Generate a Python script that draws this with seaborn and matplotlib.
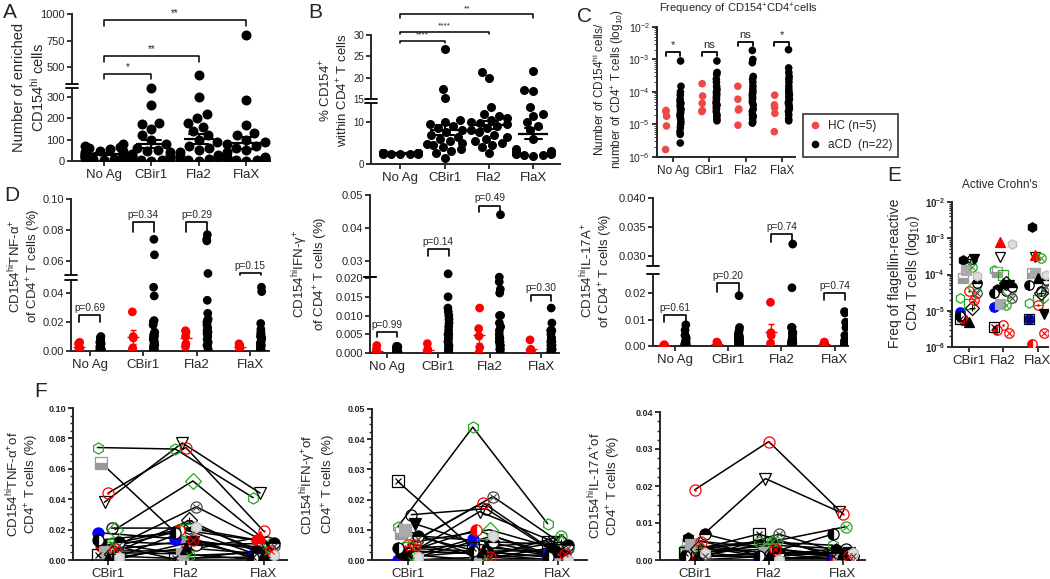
import numpy as np
import pandas as pd
import matplotlib
matplotlib.use('Agg')
import matplotlib.pyplot as plt
import seaborn as sns
from matplotlib.ticker import AutoMinorLocator

sns.set_style('ticks')
plt.rcParams['font.family'] = ['Liberation Sans', 'DejaVu Sans']
plt.rcParams['mathtext.fontset'] = 'custom'
plt.rcParams['mathtext.rm'] = 'Liberation Sans'
plt.rcParams['mathtext.it'] = 'Liberation Sans:italic'
plt.rcParams['mathtext.bf'] = 'Liberation Sans:bold'

antigens = ['No Ag', 'CBir1', 'Fla2', 'FlaX']
flagellins = ['CBir1', 'Fla2', 'FlaX']

# ---- panel A: enriched CD154hi cells (aCD, n=22)
a_noag = [78, 72, 65, 60, 55, 48, 45, 40, 38, 35, 32, 30, 28, 25, 22, 20, 18, 15, 12, 10, 8, 5]
a_cbir1 = [340, 262, 180, 175, 150, 120, 100, 80, 60, 50, 45, 40, 35, 30, 25, 20, 20, 15, 10, 5, 3, 2]
a_fla2 = [425, 300, 220, 200, 180, 160, 140, 120, 100, 90, 70, 60, 50, 40, 30, 25, 20, 20, 15, 10, 5, 2]
a_flax = [805, 285, 170, 130, 120, 100, 90, 80, 70, 60, 50, 40, 20, 18, 15, 12, 10, 8, 5, 4, 3, 2]

# ---- panel B: % CD154+ within CD4+ T cells
b_noag = [2.6, 2.6, 2.5, 2.5, 2.5, 2.5, 2.4, 2.4, 2.6, 2.5, 2.5, 2.4, 2.6, 2.5, 2.5, 2.4, 2.5, 2.6, 2.5, 2.4, 2.5, 2.5]
b_cbir1 = [26.8, 17.3, 15.2, 10.5, 10, 9.5, 9, 8.5, 8, 7.5, 7, 6.5, 6, 5.5, 5, 4.8, 4.5, 4, 3.5, 3, 2.5, 1.5]
b_fla2 = [21.3, 20, 13.5, 12, 11.5, 11, 10.5, 10, 9.8, 9.5, 9, 8.5, 8, 7.5, 7, 6.5, 6, 5.5, 5, 4.5, 4, 2.5]
b_flax = [21.5, 17, 16.8, 13.5, 12, 11.5, 10, 9, 8, 6, 3.5, 3, 3, 2.8, 2.6, 2.5, 2.5, 2.4, 2.3, 2.2, 2.1, 2.0]

# ---- panel C: frequency of CD154+CD4+ cells, HC (n=5) vs aCD (n=22)
c_hc = {
    'No Ag': [2.7e-5, 2.5e-5, 1.8e-5, 9e-6, 1.7e-6],
    'CBir1': [1.8e-4, 7.5e-5, 4.5e-5, 2.7e-5, 2.5e-5],
    'Fla2': [1.5e-4, 6e-5, 3e-5, 2.8e-5, 9.5e-6],
    'FlaX': [8e-5, 4e-5, 3.3e-5, 2.2e-5, 6e-6],
}
c_acd = {
    'No Ag': [9e-4, 1.5e-4, 1e-4, 8e-5, 6e-5, 5e-5, 4.5e-5, 4e-5, 3.5e-5, 3e-5, 2.8e-5, 2.5e-5,
              2.2e-5, 2e-5, 1.8e-5, 1.5e-5, 1.2e-5, 1e-5, 8e-6, 6e-6, 5e-6, 2.7e-6],
    'CBir1': [9e-4, 4e-4, 3.5e-4, 2.5e-4, 2e-4, 1.5e-4, 1.2e-4, 1e-4, 9e-5, 8e-5, 7e-5, 6e-5,
              5e-5, 4.5e-5, 4e-5, 3.5e-5, 3e-5, 2.5e-5, 2e-5, 1.8e-5, 1.5e-5, 1.3e-5],
    'Fla2': [1.9e-3, 1e-3, 8e-4, 3e-4, 2.5e-4, 2e-4, 1.5e-4, 1.2e-4, 1e-4, 9e-5, 8e-5, 7e-5,
             6e-5, 5e-5, 4e-5, 3e-5, 2.5e-5, 2e-5, 1.8e-5, 1.5e-5, 1.2e-5, 1.1e-5],
    'FlaX': [2e-3, 5.5e-4, 4e-4, 3e-4, 2.5e-4, 2e-4, 1.5e-4, 1.2e-4, 1e-4, 9e-5, 8e-5, 7e-5,
             6e-5, 5e-5, 4.5e-5, 4e-5, 3.5e-5, 3e-5, 2.5e-5, 2e-5, 1.5e-5, 1.3e-5],
}

# ---- panels D/F: cytokine+ CD154hi cells, per aCD patient (CBir1, Fla2, FlaX)
tnf_cbir1 = [0.074, 0.064, 0.038, 0.044, 0.021, 0.020, 0.010, 0.018, 0.009, 0.006, 0.008, 0.011,
             0.000, 0.012, 0.003, 0.011, 0.005, 0.001, 0.004, 0.007, 0.002, 0.013]
tnf_fla2 = [0.073, 0.016, 0.077, 0.074, 0.021, 0.052, 0.035, 0.014, 0.020, 0.006, 0.020, 0.003,
            0.012, 0.010, 0.001, 0.000, 0.004, 0.008, 0.026, 0.013, 0.022, 0.018]
tnf_flax = [0.041, 0.001, 0.044, 0.019, 0.012, 0.010, 0.009, 0.003, 0.013, 0.015, 0.002, 0.005,
            0.008, 0.011, 0.002, 0.006, 0.000, 0.004, 0.002, 0.006, 0.003, 0.001]
ifn_cbir1 = [0.011, 0.009, 0.001, 0.005, 0.015, 0.006, 0.007, 0.000, 0.002, 0.003, 0.004, 0.000,
             0.012, 0.008, 0.026, 0.002, 0.010, 0.001, 0.003, 0.005, 0.001, 0.004]
ifn_fla2 = [0.044, 0.003, 0.016, 0.019, 0.017, 0.010, 0.021, 0.007, 0.010, 0.002, 0.005, 0.001,
            0.004, 0.006, 0.004, 0.000, 0.001, 0.003, 0.002, 0.001, 0.008, 0.003]
ifn_flax = [0.012, 0.001, 0.006, 0.002, 0.001, 0.003, 0.004, 0.002, 0.001, 0.000, 0.001, 0.008,
            0.002, 0.005, 0.006, 0.004, 0.000, 0.003, 0.006, 0.002, 0.000, 0.001]
il17_cbir1 = [0.003, 0.004, 0.004, 0.019, 0.002, 0.001, 0.001, 0.000, 0.001, 0.000, 0.002, 0.003,
              0.001, 0.007, 0.002, 0.006, 0.004, 0.000, 0.003, 0.005, 0.002, 0.001]
il17_fla2 = [0.005, 0.001, 0.022, 0.032, 0.004, 0.005, 0.007, 0.000, 0.001, 0.000, 0.003, 0.005,
             0.002, 0.002, 0.007, 0.001, 0.002, 0.001, 0.002, 0.003, 0.000, 0.001]
il17_flax = [0.004, 0.000, 0.013, 0.0125, 0.003, 0.001, 0.001, 0.000, 0.000, 0.001, 0.001, 0.009,
             0.002, 0.001, 0.001, 0.003, 0.000, 0.002, 0.001, 0.001, 0.002, 0.007]

tnf_noag = [0.010, 0.009, 0.008, 0.007, 0.006, 0.005, 0.005, 0.004, 0.004, 0.003, 0.003, 0.002,
            0.002, 0.002, 0.001, 0.001, 0.001, 0.001, 0.000, 0.000, 0.000, 0.000]
ifn_noag = [0.0018, 0.0017, 0.0015, 0.0014, 0.0012, 0.0010, 0.0009, 0.0008, 0.0007, 0.0006, 0.0005,
            0.0004, 0.0003, 0.0002, 0.0002, 0.0001, 0.0001, 0.0, 0.0, 0.0, 0.0, 0.0]
il17_noag = [0.008, 0.006, 0.004, 0.004, 0.003, 0.002, 0.002, 0.001, 0.001, 0.001, 0.0005, 0.0005,
             0.0, 0.0, 0.0, 0.0, 0.0, 0.0, 0.0, 0.0, 0.0, 0.0]

tnf_hc = {'No Ag': [0.006, 0.005, 0.002, 0.001, 0.000], 'CBir1': [0.027, 0.010, 0.009, 0.002, 0.001],
          'Fla2': [0.014, 0.013, 0.010, 0.005, 0.003], 'FlaX': [0.005, 0.004, 0.003, 0.002, 0.000]}
ifn_hc = {'No Ag': [0.002, 0.001, 0.000, 0.000, 0.000], 'CBir1': [0.0025, 0.001, 0.000, 0.000, 0.000],
          'Fla2': [0.012, 0.0065, 0.0045, 0.0015, 0.000], 'FlaX': [0.0035, 0.001, 0.0005, 0.000, 0.000]}
il17_hc = {'No Ag': [0.0005, 0.000, 0.000, 0.000, 0.000], 'CBir1': [0.0015, 0.001, 0.0005, 0.000, 0.000],
           'Fla2': [0.0165, 0.005, 0.004, 0.001, 0.000], 'FlaX': [0.0015, 0.001, 0.0005, 0.000, 0.000]}

tnf_p = ['p=0.69', 'p=0.34', 'p=0.29', 'p=0.15']
ifn_p = ['p=0.99', 'p=0.14', 'p=0.49', 'p=0.30']
il17_p = ['p=0.61', 'p=0.20', 'p=0.74', 'p=0.74']

# ---- panel E: flagellin-reactive CD4 T cell frequency per patient
e_cbir1 = [2.2e-5, 8e-5, 2e-4, 3.5e-5, 2.6e-4, 4.5e-5, 3e-5, 9e-6, 6e-6, 5.5e-6, 1.5e-5, 1.6e-4,
           2.7e-4, 6e-5, 6e-6, 2.5e-4, 1.3e-4, 5e-6, 1.2e-5, 2e-5, 9e-5, 7e-6]
e_fla2 = [1.3e-4, 1.2e-4, 3e-4, 4e-6, 3.5e-5, 3.5e-5, 2.2e-5, 1.3e-5, 3e-6, 8e-4, 1e-4, 1.4e-5,
          5e-5, 4.5e-5, 3.5e-6, 4e-5, 1.5e-5, 6e-5, 6e-5, 2.5e-6, 7e-4, 3e-5]
e_flax = [1.6e-5, 1.1e-4, 3e-4, 1.4e-5, 3.5e-5, 2.5e-5, 4.5e-5, 6e-6, 1.2e-6, 3.5e-4, 2e-5, 2.8e-4,
          8e-6, 7e-5, 6e-6, 2e-3, 1.1e-4, 8e-5, 3e-5, 2.5e-6, 1e-4, 5e-5]

# marker, face, edge, fillstyle, inner mark -- one per patient
patient_styles = [
    ('h', 'none', '#22aa22', 'full', None), ('s', '#999999', '#999999', 'bottom', None),
    ('v', 'none', 'black', 'full', None), ('o', 'none', 'red', 'full', '.'),
    ('o', 'none', 'black', 'full', None), ('D', 'none', '#22aa22', 'full', None),
    ('o', 'none', '#444444', 'full', 'x'), ('o', 'blue', 'blue', 'full', None),
    ('o', 'red', 'red', 'left', None), ('^', 'red', 'red', 'full', None),
    ('s', 'none', '#22aa22', 'full', None), ('o', 'none', '#22aa22', 'full', 'x'),
    ('v', 'black', 'black', 'full', None), ('o', 'black', 'black', 'top', None),
    ('s', 'none', 'black', 'full', 'x'), ('h', 'black', 'black', 'full', None),
    ('s', '#aaaaaa', '#aaaaaa', 'full', None), ('^', 'black', 'black', 'full', None),
    ('D', 'none', 'black', 'full', '+'), ('o', 'none', 'red', 'full', 'x'),
    ('h', '#dddddd', '#bbbbbb', 'full', None), ('o', 'black', 'black', 'left', None),
]

W, H = 1050, 579
fig = plt.figure(figsize=(W / 100, H / 100), dpi=100)


def px_axes(left, top, right, bottom):
    return fig.add_axes([left / W, 1 - bottom / H, (right - left) / W, (bottom - top) / H])


def make_scale(xp, fp):
    xp = np.asarray(xp, float)
    fp = np.asarray(fp, float)
    s_lo = (fp[1] - fp[0]) / (xp[1] - xp[0])
    s_hi = (fp[-1] - fp[-2]) / (xp[-1] - xp[-2])

    def fwd(v):
        v = np.asarray(v, float)
        out = np.interp(v, xp, fp)
        out = np.where(v < xp[0], fp[0] + (v - xp[0]) * s_lo, out)
        return np.where(v > xp[-1], fp[-1] + (v - xp[-1]) * s_hi, out)

    def inv(h):
        h = np.asarray(h, float)
        out = np.interp(h, fp, xp)
        out = np.where(h < fp[0], xp[0] + (h - fp[0]) / s_lo, out)
        return np.where(h > fp[-1], xp[-1] + (h - fp[-1]) / s_hi, out)

    return fwd, inv


def style_axis(ax, tick_fs, xtick_fs):
    sns.despine(ax=ax)
    for s in ['left', 'bottom']:
        ax.spines[s].set_linewidth(1.4)
    ax.tick_params(direction='out', length=3.5, width=1.3, pad=1.5, labelsize=tick_fs)
    ax.tick_params(axis='x', labelsize=xtick_fs, pad=2.5)
    ax.set_xlabel('')


def add_break(ax, lo, hi):
    tr = ax.get_yaxis_transform()
    ax.plot([0, 0], [lo, hi], color='white', lw=4, transform=tr, clip_on=False, zorder=10,
            solid_capstyle='butt')
    for v in (lo, hi):
        ax.plot([-0.03, 0.03], [v, v], color='black', lw=1.3, transform=tr, clip_on=False, zorder=11)


def bracket(ax, x1, x2, y, y_low, text, fs, lw=1.1):
    ax.plot([x1, x1, x2, x2], [y_low, y, y, y_low], color='black', lw=lw, clip_on=False)
    ax.annotate(text, xy=((x1 + x2) / 2, y), xytext=(0, 1.5), textcoords='offset points',
                ha='center', va='bottom', fontsize=fs, annotation_clip=False)


def set_ylabel(ax, text, x, y, fs):
    ax.set_ylabel(text, fontsize=fs, linespacing=1.15)
    ax.yaxis.set_label_coords(x, y)


def long_frame(columns):
    rows = []
    for antigen, values in columns.items():
        for v in values:
            rows.append({'antigen': antigen, 'value': v})
    return pd.DataFrame(rows)


# ================= A
ax_a = px_axes(72, 14, 270, 161)
fwd, inv = make_scale([0, 340, 345, 1000], [0, 72.4, 77, 146.7])
ax_a.set_yscale('function', functions=(fwd, inv))
ax_a.set_ylim(0, 1000)
df_a = long_frame({'No Ag': a_noag, 'CBir1': a_cbir1, 'Fla2': a_fla2, 'FlaX': a_flax})
sns.swarmplot(data=df_a, x='antigen', y='value', order=antigens, color='black', size=7.2, ax=ax_a)
sns.pointplot(data=df_a, x='antigen', y='value', order=antigens, errorbar='se', capsize=0.4,
              color='black', markers='_', linestyles='none', markersize=22, markeredgewidth=1.6,
              err_kws={'linewidth': 1.5}, ax=ax_a)
ax_a.set_ylim(0, 1000)
ax_a.set_xlim(-0.67, 3.5)
ax_a.set_yticks([0, 100, 200, 300, 500, 750, 1000])
style_axis(ax_a, 8, 9.5)
add_break(ax_a, 340, 345)
bracket(ax_a, 0, 1, 436, 392, '*', 7)
bracket(ax_a, 0, 2, 602, 549, '**', 7)
bracket(ax_a, 0, 3, 946, 884, '**', 7)
set_ylabel(ax_a, 'Number of enriched\nCD154$^{\\mathrm{hi}}$ cells', -0.13, 0.5, 10.5)

# ================= B
ax_b = px_axes(371, 35, 560, 164)
fwd, inv = make_scale([0, 14.5, 15, 30], [0, 61, 65, 129])
ax_b.set_yscale('function', functions=(fwd, inv))
ax_b.set_ylim(0, 30)
df_b = long_frame({'No Ag': b_noag, 'CBir1': b_cbir1, 'Fla2': b_fla2, 'FlaX': b_flax})
sns.swarmplot(data=df_b, x='antigen', y='value', order=antigens, color='black', size=6.5, ax=ax_b)
sns.pointplot(data=df_b, x='antigen', y='value', order=antigens, errorbar='se', capsize=0.4,
              color='black', markers='_', linestyles='none', markersize=22, markeredgewidth=1.6,
              err_kws={'linewidth': 1.5}, ax=ax_b)
ax_b.set_ylim(0, 30)
ax_b.set_xlim(-0.66, 3.6)
ax_b.set_yticks([0, 10, 15, 20, 25, 30])
style_axis(ax_b, 7, 9.5)
add_break(ax_b, 14.5, 15)
bracket(ax_b, 0, 1, 28.7, 28.1, '****', 6)
bracket(ax_b, 0, 2, 30.8, 30.2, '****', 6)
bracket(ax_b, 0, 3, 34.9, 33.9, '**', 6)
set_ylabel(ax_b, '% CD154$^{+}$\nwithin CD4$^{+}$ T cells', -0.11, 0.57, 9.5)

# ================= C
ax_c = px_axes(657, 27, 795, 157)
ax_c.set_yscale('log')
rows = []
for antigen in antigens:
    for v in c_hc[antigen]:
        rows.append({'antigen': antigen, 'group': 'HC', 'value': v})
    for v in c_acd[antigen]:
        rows.append({'antigen': antigen, 'group': 'aCD', 'value': v})
df_c = pd.DataFrame(rows)
sns.stripplot(data=df_c, x='antigen', y='value', hue='group', order=antigens, hue_order=['HC', 'aCD'],
              palette={'HC': '#f04848', 'aCD': 'black'}, dodge=True, jitter=0.03, size=5.5, ax=ax_c)
ax_c.set_ylim(1e-6, 1e-2)
ax_c.set_xlim(-0.45, 3.37)
style_axis(ax_c, 7.5, 8.5)
ax_c.set_ylabel('')
c_sig = [(1.7e-3, '*'), (1.7e-3, 'ns'), (3.5e-3, 'ns'), (3.5e-3, '*')]
for i, (yv, txt) in enumerate(c_sig):
    bracket(ax_c, i - 0.2, i + 0.2, yv, yv / 1.3, txt, 8, lw=1.3)
handles, _ = ax_c.get_legend_handles_labels()
leg = ax_c.legend(handles, ['HC (n=5)', 'aCD  (n=22)'], loc='upper left',
                  bbox_to_anchor=(797 / W, 1 - 108 / H), bbox_transform=fig.transFigure,
                  fontsize=8.5, frameon=True, fancybox=False, handletextpad=0.6, borderpad=0.5,
                  handlelength=1.0, labelspacing=0.6)
leg.get_frame().set_edgecolor('black')
leg.get_frame().set_linewidth(1.2)
set_ylabel(ax_c, 'Number of CD154$^{\\mathrm{hi}}$ cells/\nnumber of CD4$^{+}$ T cells (log$_{10}$)',
           -0.225, 0.52, 8.5)
fig.text(738 / W, 1 - 2 / H, 'Frequency of CD154$^{+}$CD4$^{+}$cells', fontsize=8, ha='center', va='top')

# ================= D
d_specs = [
    ((71, 199, 269, 351), ([0, 0.049, 0.051, 0.10], [0, 71, 76, 152]), (0, 0.10),
     [0, 0.02, 0.04, 0.06, 0.08, 0.10], ['0.00', '0.02', '0.04', '0.06', '0.08', '0.10'],
     (0.049, 0.051), (-0.35, 3.35),
     [tnf_noag, tnf_cbir1, tnf_fla2, tnf_flax], tnf_hc, tnf_p,
     [(0.0248, 0.020), (0.0852, 0.0787), (0.0852, 0.0787), (0.0523, 0.0512)],
     'CD154$^{\\mathrm{hi}}$TNF-α$^{+}$\nof CD4$^{+}$ T cells (%)', (-0.14, 0.56)),
    ((370, 195, 559, 353), ([0, 0.0202, 0.0252, 0.05], [0, 75.7, 76.5, 158]), (0, 0.05),
     [0, 0.005, 0.010, 0.015, 0.020, 0.03, 0.04, 0.05],
     ['0.000', '0.005', '0.010', '0.015', '0.020', '0.03', '0.04', '0.05'],
     (0.0202, 0.0252), (-0.33, 3.35),
     [ifn_noag, ifn_cbir1, ifn_fla2, ifn_flax], ifn_hc, ifn_p,
     [(0.0057, 0.0043), (0.0335, 0.0314), (0.0468, 0.0447), (0.0155, 0.0139)],
     'CD154$^{\\mathrm{hi}}$IFN-γ$^{+}$\nof CD4$^{+}$ T cells (%)', (-0.21, 0.5)),
    ((653, 198, 848, 346), ([0, 0.0272, 0.0282, 0.040], [0, 72, 80, 148]), (0, 0.040),
     [0, 0.01, 0.02, 0.030, 0.035, 0.040], ['0.00', '0.01', '0.02', '0.030', '0.035', '0.040'],
     (0.0272, 0.0282), (-0.41, 3.25),
     [il17_noag, il17_cbir1, il17_fla2, il17_flax], il17_hc, il17_p,
     [(0.0117, 0.0091), (0.0239, 0.0205), (0.0338, 0.0324), (0.0201, 0.0174)],
     'CD154$^{\\mathrm{hi}}$IL-17A$^{+}$\nof CD4$^{+}$ T cells (%)', (-0.195, 0.51)),
]
for rect, (xp, fp), ylim, ticks, ticklabels, brk, xlim, acd_cols, hc, pvals, brs, ylab, labpos in d_specs:
    ax = px_axes(*rect)
    fwd, inv = make_scale(xp, fp)
    ax.set_yscale('function', functions=(fwd, inv))
    ax.set_ylim(*ylim)
    rows = []
    for antigen, acd in zip(antigens, acd_cols):
        for v in hc[antigen]:
            rows.append({'antigen': antigen, 'group': 'HC', 'value': v})
        for v in acd:
            rows.append({'antigen': antigen, 'group': 'aCD', 'value': v})
    df_d = pd.DataFrame(rows)
    sns.stripplot(data=df_d, x='antigen', y='value', hue='group', order=antigens,
                  hue_order=['HC', 'aCD'], palette={'HC': 'red', 'aCD': 'black'}, dodge=True,
                  jitter=0.03, size=6.3, legend=False, ax=ax)
    hc_stats = df_d[df_d.group == 'HC'].groupby('antigen')['value'].agg(['mean', 'sem']).reindex(antigens)
    ax.errorbar(np.arange(4) - 0.2, hc_stats['mean'], yerr=hc_stats['sem'], fmt='_', color='red',
                ms=9, capsize=2.5, lw=1, zorder=4)
    ax.set_ylim(*ylim)
    ax.set_xlim(*xlim)
    ax.set_yticks(ticks, labels=ticklabels)
    style_axis(ax, 8, 9.5)
    add_break(ax, *brk)
    for i, (txt, (yv, ylo)) in enumerate(zip(pvals, brs)):
        bracket(ax, i - 0.2, i + 0.2, yv, ylo, txt, 7.2, lw=1.2)
    set_ylabel(ax, ylab, labpos[0], labpos[1], 9.5)

# ================= E
ax_e = px_axes(952, 202, 1048, 347)
ax_e.set_yscale('log')
spread_e = (np.arange(len(patient_styles)) % 7 - 3) * 0.085
for i, st in enumerate(patient_styles):
    xs = np.arange(3) + spread_e[i]
    ys = [e_cbir1[i], e_fla2[i], e_flax[i]]
    marker, face, edge, fill, inner = st
    ax_e.plot(xs, ys, linestyle='none', marker=marker, markersize=6.8, markerfacecolor=face,
              markeredgecolor=edge, fillstyle=fill, markerfacecoloralt='white', markeredgewidth=0.9, zorder=3)
    if inner:
        ax_e.plot(xs, ys, linestyle='none', marker=inner, markersize=4 if inner != '.' else 2,
                  color=edge, markeredgewidth=0.8, zorder=4)
ax_e.set_ylim(1e-6, 1e-2)
ax_e.set_xlim(-0.48, 2.3)
ax_e.set_xticks([0, 1, 2], labels=flagellins)
ax_e.set_yticks([1e-6, 1e-5, 1e-4, 1e-3, 1e-2],
                labels=['$\\mathbf{10^{-%d}}$' % k for k in [6, 5, 4, 3, 2]])
style_axis(ax_e, 7, 9.5)
ax_e.tick_params(axis='y', which='minor', length=2, width=1)
set_ylabel(ax_e, 'Freq of flagellin-reactive\nCD4 T cells (log$_{10}$)', -0.31, 0.51, 10)
ax_e.set_title("Active Crohn's", fontsize=8.5, pad=10)

# ================= F
f_specs = [
    ((73, 408, 287, 560), 0.10, [0, 0.02, 0.04, 0.06, 0.08, 0.10], (-0.45, 2.3),
     [tnf_cbir1, tnf_fla2, tnf_flax], 'CD154$^{\\mathrm{hi}}$TNF-α$^{+}$of\nCD4$^{+}$ T cells (%)', -0.15),
    ((372, 409, 587, 560), 0.05, [0, 0.01, 0.02, 0.03, 0.04, 0.05], (-0.48, 2.39),
     [ifn_cbir1, ifn_fla2, ifn_flax], 'CD154$^{\\mathrm{hi}}$IFN-γ$^{+}$of\nCD4$^{+}$ T cells (%)', -0.16),
    ((660, 412, 865, 560), 0.04, [0, 0.01, 0.02, 0.03, 0.04], (-0.47, 2.3),
     [il17_cbir1, il17_fla2, il17_flax], 'CD154$^{\\mathrm{hi}}$IL-17A$^{+}$of\nCD4$^{+}$ T cells (%)', -0.18),
]
spread_f = (np.arange(len(patient_styles)) % 7 - 3) * 0.045
for rect, ytop, ticks, xlim, cols, ylab, labx in f_specs:
    ax = px_axes(*rect)
    rows = []
    for i in range(len(patient_styles)):
        for j, col in enumerate(cols):
            rows.append({'patient': i, 'xpos': j + spread_f[i], 'value': col[i]})
    df_f = pd.DataFrame(rows)
    sns.lineplot(data=df_f, x='xpos', y='value', units='patient', estimator=None, color='black',
                 linewidth=1.1, ax=ax, zorder=2)
    for i, st in enumerate(patient_styles):
        sub = df_f[df_f.patient == i]
        marker, face, edge, fill, inner = st
        ax.plot(sub['xpos'], sub['value'], linestyle='none', marker=marker, markersize=8,
                markerfacecolor=face, markeredgecolor=edge, fillstyle=fill, markerfacecoloralt='white',
                markeredgewidth=0.9, zorder=3)
        if inner:
            ax.plot(sub['xpos'], sub['value'], linestyle='none', marker=inner,
                    markersize=5 if inner != '.' else 2, color=edge, markeredgewidth=0.8, zorder=4)
    ax.set_ylim(0, ytop)
    ax.set_xlim(*xlim)
    ax.set_xticks([0, 1, 2], labels=flagellins)
    ax.set_yticks(ticks, labels=['%.2f' % t for t in ticks])
    style_axis(ax, 6.5, 9.5)
    for lab in ax.get_yticklabels():
        lab.set_fontweight('bold')
    ax.yaxis.set_minor_locator(AutoMinorLocator(4))
    ax.tick_params(axis='y', which='minor', length=2, width=1)
    ax.set_ylabel('')
    set_ylabel(ax, ylab, labx, 0.5, 9.5)

# panel letters
for letter, x, y in [('A', 3, 3), ('B', 308, 3), ('C', 577, 7), ('D', 4, 186), ('E', 887, 166),
                     ('F', 34, 382)]:
    fig.text(x / W, 1 - y / H, letter, fontsize=15, va='top', ha='left')

fig.savefig('out.png', dpi=100)
